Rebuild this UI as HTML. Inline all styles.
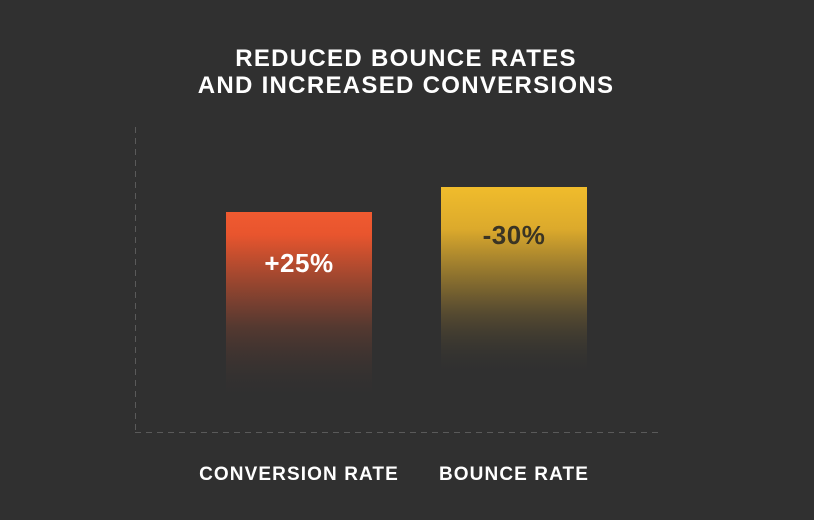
<!DOCTYPE html>
<html><head><meta charset="utf-8"><style>
html,body{margin:0;padding:0;background:#303030;}
svg{display:block;font-family:"Liberation Sans",sans-serif;font-weight:bold;}
</style></head><body>
<svg id="chart" width="814" height="520" viewBox="0 0 814 520">
<defs>
<linearGradient id="g0" x1="0" y1="0" x2="0" y2="1">
<stop offset="0" stop-color="#f05a30"/><stop offset="0.12" stop-color="#e8552e"/><stop offset="0.6" stop-color="#5a3a30" stop-opacity="0.9"/><stop offset="1" stop-color="#303030" stop-opacity="0"/>
</linearGradient>
<linearGradient id="g1" x1="0" y1="0" x2="0" y2="1">
<stop offset="0" stop-color="#f0bc2c"/><stop offset="0.22" stop-color="#dcaa2c"/><stop offset="0.65" stop-color="#5e5030" stop-opacity="0.9"/><stop offset="1" stop-color="#303030" stop-opacity="0"/>
</linearGradient>
</defs>
<text x="406" y="66" text-anchor="middle" fill="#fff" font-size="24" letter-spacing="1.3">REDUCED BOUNCE RATES</text>
<text x="406" y="93" text-anchor="middle" fill="#fff" font-size="24" letter-spacing="1.3">AND INCREASED CONVERSIONS</text>
<line x1="135.5" y1="127" x2="135.5" y2="432" stroke="#5a5a5a" stroke-dasharray="6,5"/>
<line x1="135" y1="432.5" x2="660" y2="432.5" stroke="#5a5a5a" stroke-dasharray="6,5"/>
<g id="bars"></g>
</svg>
<script>
const categories = ["CONVERSION RATE", "BOUNCE RATE"];
const values = [25, 30];
const valueLabels = ["+25%", "-30%"];
const baseline = 432;
function y(v){ return baseline - (v + 19) * 5; }
const xCenters = [299, 514];
const barW = 146;
const fills = ["url(#g0)", "url(#g1)"];
const textFills = ["#ffffff", "#3a3424"];
const g = document.getElementById('bars');
const ns = "http://www.w3.org/2000/svg";
values.forEach((v, i) => {
  const top = y(v);
  const r = document.createElementNS(ns, 'rect');
  r.setAttribute('x', xCenters[i] - barW / 2);
  r.setAttribute('y', top);
  r.setAttribute('width', barW);
  r.setAttribute('height', 190);
  r.setAttribute('fill', fills[i]);
  
  
  g.appendChild(r);
  const t = document.createElementNS(ns, 'text');
  t.setAttribute('x', xCenters[i]);
  t.setAttribute('y', top + (i === 0 ? 60 : 57));
  t.setAttribute('text-anchor', 'middle');
  t.setAttribute('fill', textFills[i]);
  t.setAttribute('font-size', '26');
  t.setAttribute('letter-spacing', '0.5');
  t.textContent = valueLabels[i];
  
  
  g.appendChild(t);
  const c = document.createElementNS(ns, 'text');
  c.setAttribute('x', xCenters[i]);
  c.setAttribute('y', 480);
  c.setAttribute('text-anchor', 'middle');
  c.setAttribute('fill', '#ffffff');
  c.setAttribute('font-size', '19');
  c.setAttribute('letter-spacing', '1.1');
  c.textContent = categories[i];
  
  
  g.appendChild(c);
});
</script>
</body></html>
